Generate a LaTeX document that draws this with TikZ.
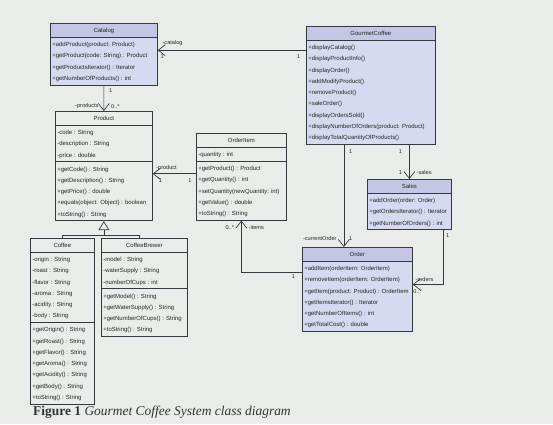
\documentclass[tikz,border=0pt]{standalone}
\usepackage{fontspec}
\setmainfont{Liberation Serif}
\setsansfont{Liberation Sans}
\usetikzlibrary{arrows.meta,shapes.multipart}

\definecolor{paper}{RGB}{233,236,233}
\definecolor{hdrblue}{RGB}{196,198,228}
\definecolor{bodyblue}{RGB}{214,217,239}
\definecolor{ink}{RGB}{55,55,62}

\newcommand{\ctitle}[1]{\hfill#1\hfill\strut}
\newcommand{\clines}[1]{\strut#1\strut}

\tikzstyle{cls} = [rectangle split, rectangle split parts=3, draw=ink, line width=.7bp,
    inner xsep=2bp, inner ysep=1bp, align=flush left, text=black!85,
    font=\sffamily\fontsize{6}{11.3}\selectfont]
\tikzstyle{ctl} = [cls, rectangle split parts=2, rectangle split part fill={hdrblue,bodyblue}]
\tikzstyle{lbl} = [font=\sffamily\fontsize{5.6}{6}\selectfont, inner sep=1bp, text=black!85]
\tikzstyle{assoc} = [draw=ink, line width=.7bp, -{Straight Barb[length=7bp,width=11bp]}]
\tikzstyle{gen} = [draw=ink, line width=.7bp]

\begin{document}
\begin{tikzpicture}[x=1bp,y=-1bp]

  \fill[paper] (0,0) rectangle (553,424);
  \useasboundingbox (0,0) rectangle (553,424);

  \node[ctl,text width=103bp,anchor=north west] (cat) at (50,23)
    {\ctitle{Catalog}\nodepart{two}\clines{+addProduct(product: Product)\\+getProduct(code: String) : Product\\+getProductsIterator() : Iterator\\+getNumberOfProducts() : int}};
  \node[ctl,text width=125bp,anchor=north west] (gc) at (306,26)
    {\ctitle{GourmetCoffee}\nodepart{two}\clines{+displayCatalog()\\+displayProductInfo()\\+displayOrder()\\+addModifyProduct()\\+removeProduct()\\+saleOrder()\\+displayOrdersSold()\\+displayNumberOfOrders(product: Product)\\+displayTotalQuantityOfProducts()}};
  \node[cls,text width=93bp,anchor=north west] (prod) at (55,111)
    {\ctitle{Product}\nodepart{two}\clines{-code : String\\-description : String\\-price : double}\nodepart{three}\clines{+getCode() : String\\+getDescription() : String\\+getPrice() : double\\+equals(object: Object) : boolean\\+toString() : String}};
  \node[cls,text width=86bp,anchor=north west] (item) at (196,133)
    {\ctitle{OrderItem}\nodepart{two}\clines{-quantity : int}\nodepart{three}\clines{+getProduct() : Product\\+getQuantity() : int\\+setQuantity(newQuantity: int)\\+getValue() : double\\+toString() : String}};
  \node[ctl,text width=80bp,anchor=north west] (sales) at (367,179)
    {\ctitle{Sales}\nodepart{two}\clines{+addOrder(order: Order)\\+getOrdersIterator() : Iterator\\+getNumberOfOrders() : int}};
  \node[ctl,text width=106bp,anchor=north west] (order) at (302,247)
    {\ctitle{Order}\nodepart{two}\clines{+addItem(orderItem: OrderItem)\\+removeItem(orderItem: OrderItem)\\+getItem(product: Product) : OrderItem\\+getItemsIterator() : Iterator\\+getNumberOfItems() : int\\+getTotalCost() : double}};
  \node[cls,text width=60bp,anchor=north west] (coffee) at (30,238)
    {\ctitle{Coffee}\nodepart{two}\clines{-origin : String\\-roast : String\\-flavor : String\\-aroma : String\\-acidity : String\\-body : String}\nodepart{three}\clines{+getOrigin() : String\\+getRoast() : String\\+getFlavor() : String\\+getAroma() : String\\+getAcidity() : String\\+getBody() : String\\+toString() : String}};
  \node[cls,text width=82bp,anchor=north west] (brewer) at (101,238)
    {\ctitle{CoffeeBrewer}\nodepart{two}\clines{-model : String\\-waterSupply : String\\-numberOfCups : int}\nodepart{three}\clines{+getModel() : String\\+getWaterSupply() : String\\+getNumberOfCups() : String\\+toString() : String}};

  \coordinate (catend) at ([yshift=4bp]cat.east);
  \coordinate (pj) at ([yshift=3bp]item.west);
  \coordinate (ij) at ([yshift=17bp]order.west);
  \coordinate (co) at ([xshift=-27bp]gc.south);
  \coordinate (os) at ([xshift=-8bp]sales.south east);
  \coordinate (oe) at ([yshift=5bp]order.east);
  \coordinate (fork) at ([yshift=-14bp]prod.south);

  \draw[assoc] (gc.west |- catend) -- (catend)
    node[lbl,pos=.9,above=3bp] {-catalog}
    node[lbl,pos=.97,below=3bp] {1}
    node[lbl,pos=.05,below=3bp] {1};
  \draw[assoc] (cat.south) -- (prod.north)
    node[lbl,pos=.2,right=4bp] {1}
    node[lbl,pos=.82,left=4bp] {-products}
    node[lbl,pos=.82,right=6bp] {0..*};
  \draw[assoc] (pj) -- (pj -| prod.east)
    node[lbl,pos=.68,above=2bp] {-product}
    node[lbl,pos=.82,below=4bp] {1}
    node[lbl,pos=.14,below=4bp] {1};
  \draw[assoc] (ij) -| (item.south)
    node[lbl,pos=.07,below=1bp] {1}
    node[lbl,pos=.93,left=6bp] {0..*}
    node[lbl,pos=.93,right=6bp] {-items};
  \draw[assoc] (co) -- (co |- order.north)
    node[lbl,pos=.07,right=4bp] {1}
    node[lbl,pos=.92,left=6bp] {-currentOrder}
    node[lbl,pos=.92,right=4bp] {1};
  \draw[assoc] (gc.south -| sales.north) -- (sales.north)
    node[lbl,pos=.2,left=6bp] {1}
    node[lbl,pos=.8,left=6bp] {1}
    node[lbl,pos=.8,right=6bp] {-sales};
  \draw[assoc] (os) |- (oe)
    node[lbl,pos=.05,right=1bp] {1}
    node[lbl,pos=.81,above=2bp] {-orders}
    node[lbl,pos=.92,below=4bp] {0..*};

  \draw[gen,-{Triangle[open,length=9bp,width=11bp]}] (coffee.north) |- (fork) -- (prod.south);
  \draw[gen] ([xshift=-5bp]brewer.north) |- (fork);

  \node[anchor=base west,inner sep=0pt,font=\fontsize{13.5}{15}\selectfont,text=black!80] (cap) at (33,415)
    {\textbf{Figure 1} \textit{Gourmet Coffee System class diagram}};
\end{tikzpicture}
\end{document}
